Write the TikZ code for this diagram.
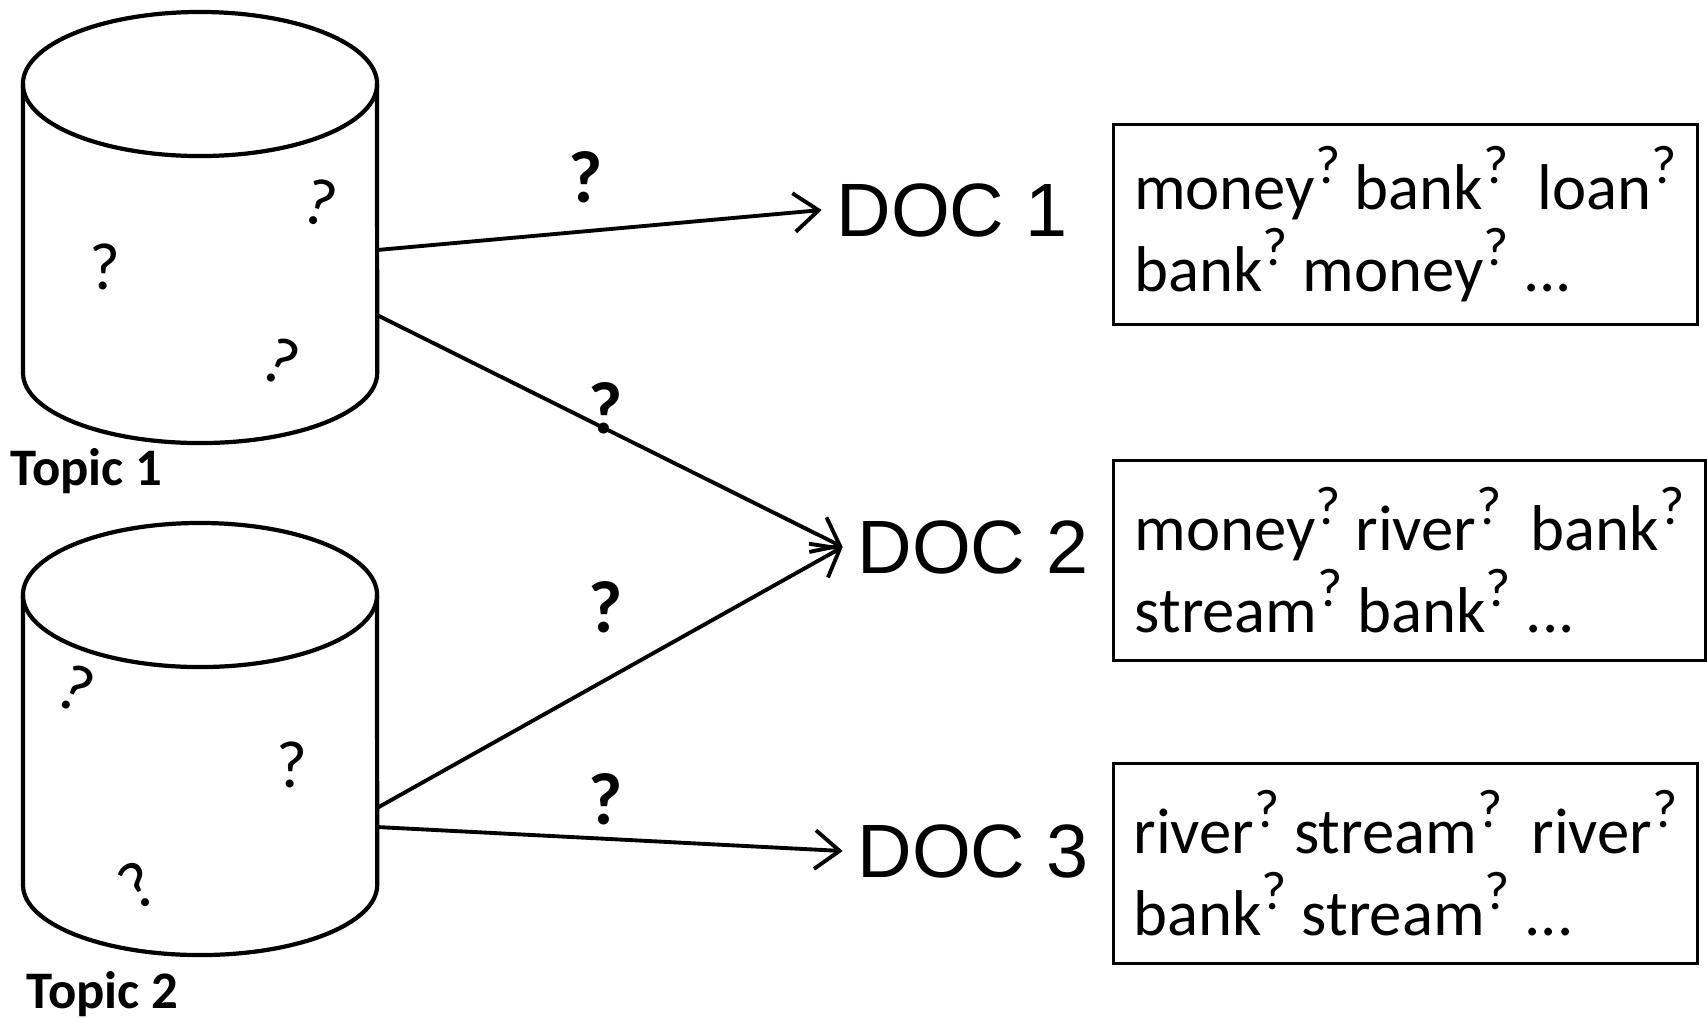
\documentclass[tikz,border=0pt]{standalone}
\usepackage{fontspec}
\setmainfont{Carlito}
\newfontfamily\arialfont{Liberation Sans}
\usetikzlibrary{positioning,arrows.meta}
\newcommand{\supq}{\raisebox{.4em}{\fontsize{15.5pt}{16pt}\selectfont ?}}
\tikzset{cylline/.style={line width=1.2pt},
         qm/.style={font=\fontsize{19pt}{22pt}\selectfont,inner sep=0},
         ql/.style={font=\fontsize{21pt}{24pt}\selectfont\bfseries,inner sep=0},
         tl/.style={font=\fontsize{15pt}{18pt}\selectfont\bfseries,anchor=base west,inner sep=0},
         doc/.style={font=\arialfont\fontsize{21.5pt}{24pt}\selectfont,inner xsep=4pt},
         wbox/.style={draw,line width=.8pt,anchor=north west,minimum height=2cm,minimum width=#1,
           inner xsep=.15cm,align=left,font=\fontsize{18.4pt}{23.3pt}\selectfont},
         arr/.style={->,line width=1.1pt}}

\begin{document}
\begin{tikzpicture}[x=.01cm,y=-.01cm,>={Straight Barb[length=7pt,width=11pt]}]
  \useasboundingbox (0,0) rectangle (1707,1017);
  % topics
  \foreach \yt/\yb in {12/443,523/955} {
    \draw[cylline] (200,\yt+72) ellipse [x radius=1.77cm,y radius=.72cm];
    \draw[cylline] (23,\yt+72) -- (23,\yb-70)
      arc[start angle=180,end angle=360,x radius=1.77cm,y radius=.70cm] -- (377,\yt+72);
  }
  \node[tl] (tl1) at (10,485) {Topic 1};
  \node[tl] (tl2) at (26,1008) {Topic 2};
  \node[qm,rotate=-15] (q1) at (320,203) {?};
  \node[qm] (q2) at (105,267) {?};
  \node[qm,rotate=-25] (q3) at (281,362) {?};
  \node[qm,rotate=-25] (q4) at (76,689) {?};
  \node[qm] (q5) at (292,765) {?};
  \node[qm,rotate=30] (q6) at (138,885) {?};
  % documents
  \node[doc] (d1) at (952,210) {DOC 1};
  \node[doc] (d2) at (973,547) {DOC 2};
  \node[doc] (d3) at (973,851) {DOC 3};
  \node[wbox=5.84cm] (b1) at (1112,123) {money\supq{} bank\supq{}~ loan\supq\\ bank\supq{} money\supq{} ...};
  \node[wbox=5.92cm] (b2) at (1112,459) {money\supq{} river\supq{}~ bank\supq\\ stream\supq{} bank\supq{} ...};
  \node[wbox=5.84cm] (b3) at (1112,762) {river\supq{} stream\supq{}~ river\supq\\ bank\supq{} stream\supq{} ...};
  % arrows
  \coordinate (t1a) at (377,250);
  \coordinate (t1b) at (377,315);
  \coordinate (t2a) at (377,808);
  \coordinate (t2b) at (377,827);
  \draw[arr] (t1a) -- node[ql,pos=.47,above=7.4pt] {?} (d1.west);
  \draw[arr] (t1b) -- node[ql,pos=.49,above=-2pt] {?} (d2.west);
  \draw[arr] (t2a) -- node[ql,pos=.49,above=12.8pt] {?} (d2.west);
  \draw[arr] (t2b) -- node[ql,pos=.49,above=3.4pt] {?} (d3.west);
\end{tikzpicture}
\end{document}
